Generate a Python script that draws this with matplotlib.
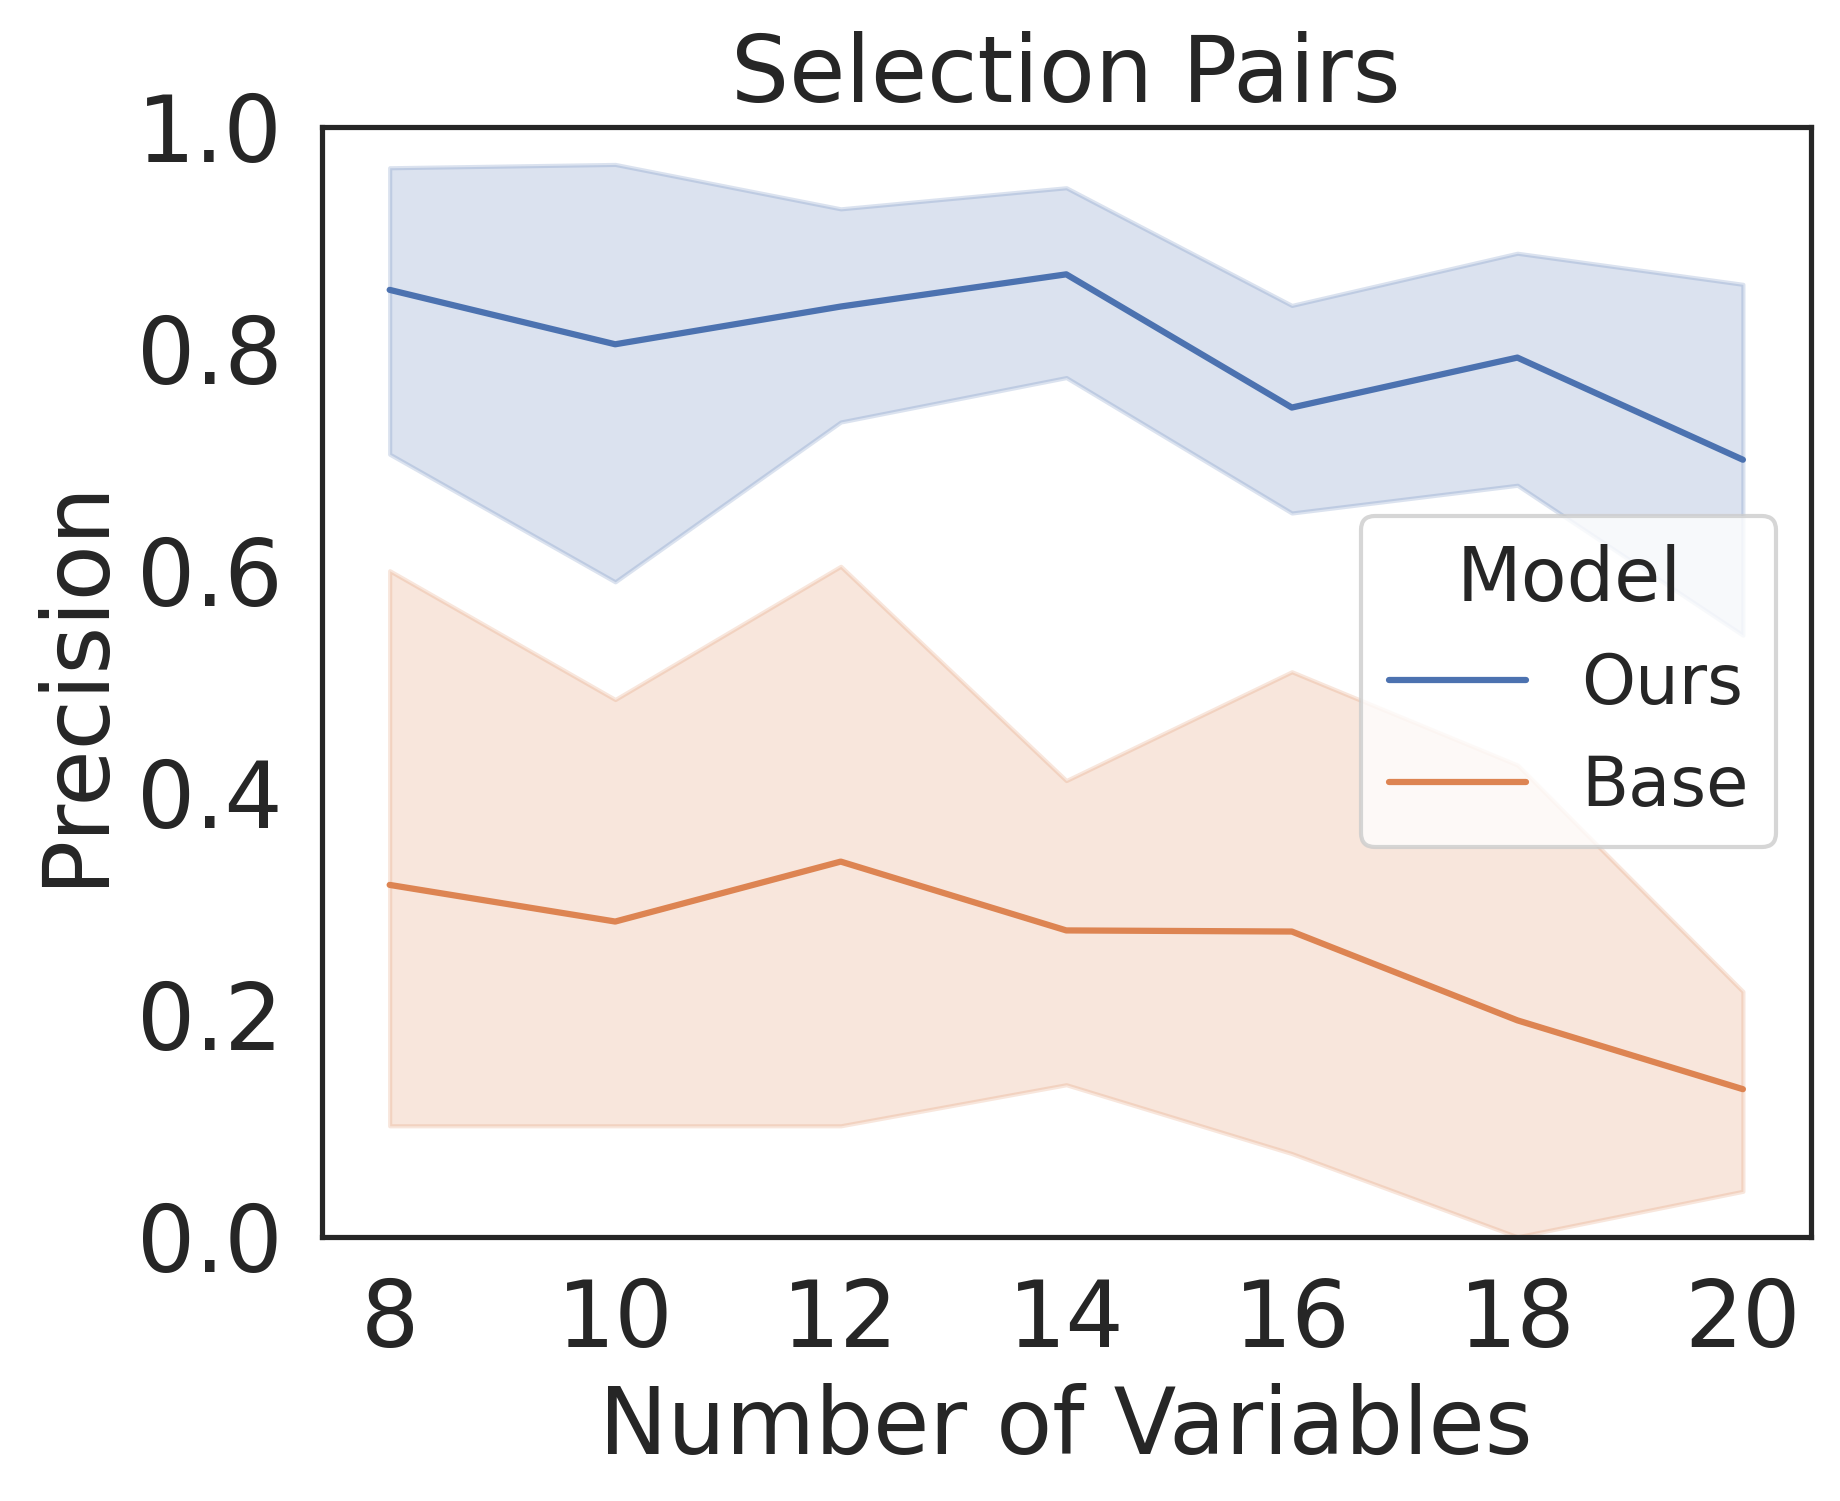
import matplotlib
matplotlib.use("Agg")
import matplotlib.pyplot as plt
import seaborn as sns
import numpy as np

sns.set_theme(style="white", context="notebook", font_scale=2)

num_vars = [8, 10, 12, 14, 16, 18, 20]

ours_mean = [0.853, 0.804, 0.838, 0.867, 0.747, 0.792, 0.700]
ours_hi = [0.963, 0.966, 0.926, 0.945, 0.839, 0.886, 0.858]
ours_lo = [0.705, 0.590, 0.734, 0.774, 0.652, 0.677, 0.542]

base_mean = [0.317, 0.284, 0.338, 0.276, 0.275, 0.195, 0.133]
base_hi = [0.600, 0.484, 0.604, 0.411, 0.509, 0.425, 0.221]
base_lo = [0.100, 0.100, 0.100, 0.137, 0.075, 0.000, 0.041]

models = ["Ours", "Base"]
colors = sns.color_palette("deep")[:2]

fig = plt.figure(figsize=(1840 / 300, 1501 / 300), dpi=300)
ax = fig.add_axes([0.175, 0.176, 0.809, 0.7396])

series = [(ours_mean, ours_lo, ours_hi), (base_mean, base_lo, base_hi)]
for name, c, (m, lo, hi) in zip(models, colors, series):
    ax.plot(num_vars, m, color=c, label=name)
    ax.fill_between(num_vars, lo, hi, color=c, alpha=0.2)

ax.set_ylim(0, 1)
ax.set_xticks(num_vars)
ax.set_xlabel("Number of Variables", fontsize=22)
ax.set_ylabel("Precision", fontsize=22)
ax.set_title("Selection Pairs", fontsize=22)
ax.legend(title="Model", loc="center right", fontsize=16.5, title_fontsize=18)

fig.savefig("out.png", dpi=300)
